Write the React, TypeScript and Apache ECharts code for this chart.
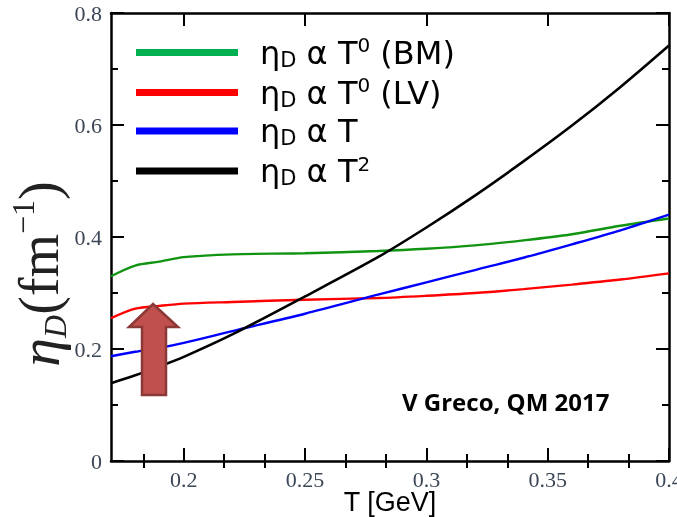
import React, { useEffect, useRef } from 'react';
import * as echarts from 'echarts';

const temps = [0.17, 0.18, 0.19, 0.2, 0.22, 0.25, 0.28, 0.3, 0.32, 0.34, 0.36, 0.38, 0.4];
const etaBM = [0.330, 0.349, 0.356, 0.364, 0.369, 0.371, 0.375, 0.379, 0.385, 0.394, 0.405, 0.420, 0.433];
const etaLV = [0.255, 0.272, 0.277, 0.281, 0.284, 0.288, 0.291, 0.295, 0.300, 0.307, 0.315, 0.324, 0.335];
const etaT = [0.187, 0.195, 0.202, 0.211, 0.232, 0.263, 0.297, 0.319, 0.341, 0.363, 0.387, 0.412, 0.440];
const etaT2 = [0.139, 0.153, 0.169, 0.186, 0.226, 0.294, 0.364, 0.417, 0.474, 0.535, 0.599, 0.668, 0.742];

const xMajorTicks = [0.2, 0.25, 0.3, 0.35, 0.4];
const xMinorTicks = [0.18333, 0.21667, 0.23333, 0.26667, 0.28333, 0.31667, 0.33333, 0.36667, 0.38333];

const seriesNames = ['BM', 'LV', 'T', 'T2'];
const lineColors = ['#119411', '#ff0000', '#0000ff', '#000000'];
const legendColors = ['#00b050', '#ff0000', '#0000ff', '#000000'];
const legendLabels: Record<string, string> = {
  BM: '{a|η}{s|D}{a| α T}{p|0}{a| (BM)}',
  LV: '{a|η}{s|D}{a| α T}{p|0}{a| (LV)}',
  T: '{a|η}{s|D}{a| α T}',
  T2: '{a|η}{s|D}{a| α T}{p|2}',
};
const note = 'V Greco, QM 2017';

const pairs = (ys: number[]) => temps.map((t, i) => [t, ys[i]]);

const labelColor = '#3b4656';
const serif = '"Liberation Serif", "Times New Roman", serif';
const sans = '"Open Sans", "Noto Sans", sans-serif';
const legendFont = '"DejaVu Sans", "Open Sans", sans-serif';

export default function App() {
  const ref = useRef<HTMLDivElement>(null);
  useEffect(() => {
    if (!ref.current) return;
    const chart = echarts.init(ref.current, undefined, { renderer: 'svg' });
    const xCommon = {
      type: 'value' as const,
      min: 0.17,
      max: 0.4,
      splitLine: { show: false },
    };
    const yCommon = {
      type: 'value' as const,
      min: 0,
      max: 0.8,
      interval: 0.2,
      splitLine: { show: false },
      minorSplitLine: { show: false },
    };
    const axisLine = { show: true, onZero: false, lineStyle: { color: '#000', width: 2.5 } };
    const tickStyle = { width: 2, color: '#000' };
    const dataSets = [etaBM, etaLV, etaT, etaT2];
    chart.setOption({
      animation: false,
      grid: { left: 111, right: 8, top: 13, bottom: 56, containLabel: false, outerBoundsMode: 'none' },
      xAxis: [
        {
          ...xCommon,
          position: 'bottom',
          axisLine,
          name: 'T [GeV]',
          nameLocation: 'middle',
          nameGap: 27,
          nameMoveOverlap: false,
          nameTextStyle: { fontFamily: '"Liberation Sans", Arial, sans-serif', fontSize: 27, lineHeight: 27, color: '#000', verticalAlign: 'top' },
          axisTick: { show: true, inside: true, length: 13, lineStyle: tickStyle, customValues: xMajorTicks },
          axisLabel: { show: true, customValues: xMajorTicks, fontFamily: serif, fontSize: 22, lineHeight: 20, color: labelColor, margin: 8, formatter: (v: number) => String(+v.toFixed(2)) },
        },
        {
          ...xCommon,
          position: 'bottom',
          axisLine: { show: false },
          axisTick: { show: true, inside: true, length: 7, lineStyle: tickStyle, customValues: xMinorTicks },
          axisLabel: { show: false, customValues: xMinorTicks },
        },
        {
          ...xCommon,
          position: 'top',
          axisLine,
          axisTick: { show: true, inside: true, length: 13, lineStyle: tickStyle, customValues: xMajorTicks },
          axisLabel: { show: false, customValues: xMajorTicks },
        },
        {
          ...xCommon,
          position: 'top',
          axisLine: { show: false },
          axisTick: { show: true, inside: true, length: 7, lineStyle: tickStyle, customValues: xMinorTicks },
          axisLabel: { show: false, customValues: xMinorTicks },
        },
      ],
      yAxis: [
        {
          ...yCommon,
          position: 'left',
          axisLine,
          axisTick: { show: true, inside: true, length: 13, lineStyle: tickStyle },
          minorTick: { show: true, splitNumber: 2, length: 7, lineStyle: tickStyle },
          axisLabel: { show: true, fontFamily: serif, fontSize: 22, color: labelColor, margin: 9, formatter: (v: number) => String(+v.toFixed(1)) },
          name: '{e|η}{d|D}{p|(}{f|fm}{s|−1}{p|)}',
          nameLocation: 'middle',
          nameRotate: 90,
          nameGap: 40,
          nameMoveOverlap: false,
          nameTextStyle: {
            padding: [0, 74, 0, 0],
            rich: {
              e: { fontFamily: serif, fontStyle: 'italic', fontSize: 58, lineHeight: 64, color: '#222' },
              d: { fontFamily: serif, fontStyle: 'italic', fontSize: 32, lineHeight: 32, verticalAlign: 'bottom', color: '#222' },
              p: { fontFamily: serif, fontSize: 56, lineHeight: 64, color: '#222' },
              f: { fontFamily: serif, fontSize: 56, lineHeight: 64, color: '#222' },
              s: { fontFamily: serif, fontSize: 32, lineHeight: 32, verticalAlign: 'top', color: '#222' },
            },
          },
        },
        {
          ...yCommon,
          position: 'right',
          axisLine,
          axisTick: { show: true, inside: true, length: 13, lineStyle: tickStyle },
          minorTick: { show: true, splitNumber: 2, length: 7, lineStyle: tickStyle },
          axisLabel: { show: false },
        },
      ],
      legend: {
        left: 131,
        top: 30,
        orient: 'vertical',
        icon: 'rect',
        itemWidth: 102,
        itemHeight: 7,
        itemGap: 5,
        selectedMode: false,
        data: seriesNames.map((n, i) => ({ name: n, itemStyle: { color: legendColors[i] } })),
        formatter: (n: string) => legendLabels[n],
        textStyle: {
          padding: [0, 0, 0, 17],
          rich: {
            a: { fontFamily: legendFont, fontSize: 32, lineHeight: 35, color: '#000' },
            s: { fontFamily: legendFont, fontSize: 21, lineHeight: 16, verticalAlign: 'bottom', color: '#000' },
            p: { fontFamily: legendFont, fontSize: 20, lineHeight: 24, verticalAlign: 'top', color: '#000' },
          },
        },
      },
      series: seriesNames.map((n, i) => ({
        name: n,
        type: 'line',
        xAxisIndex: 0,
        yAxisIndex: 0,
        data: pairs(dataSets[i]),
        showSymbol: false,
        symbol: 'none',
        smooth: 0.3,
        lineStyle: { color: lineColors[i], width: i === 3 ? 2.6 : 2.4 },
        itemStyle: { color: lineColors[i] },
        z: 3,
      })),
      graphic: [
        {
          type: 'text',
          left: 402,
          top: 389,
          style: { text: note, fontFamily: sans, fontWeight: 'bold', fontSize: 24, fill: '#000' },
          z: 10,
        },
        {
          type: 'polygon',
          shape: { points: [[153, 304], [178, 327], [166, 327], [166, 395], [142, 395], [142, 327], [129, 327]] },
          style: { fill: '#c0504d', stroke: '#8c3836', lineWidth: 2.5 },
          z: 20,
        },
      ],
    });
    return () => chart.dispose();
  }, []);
  return <div ref={ref} style={{ position: 'fixed', left: 0, top: 0, width: 677, height: 517 }} />;
}
